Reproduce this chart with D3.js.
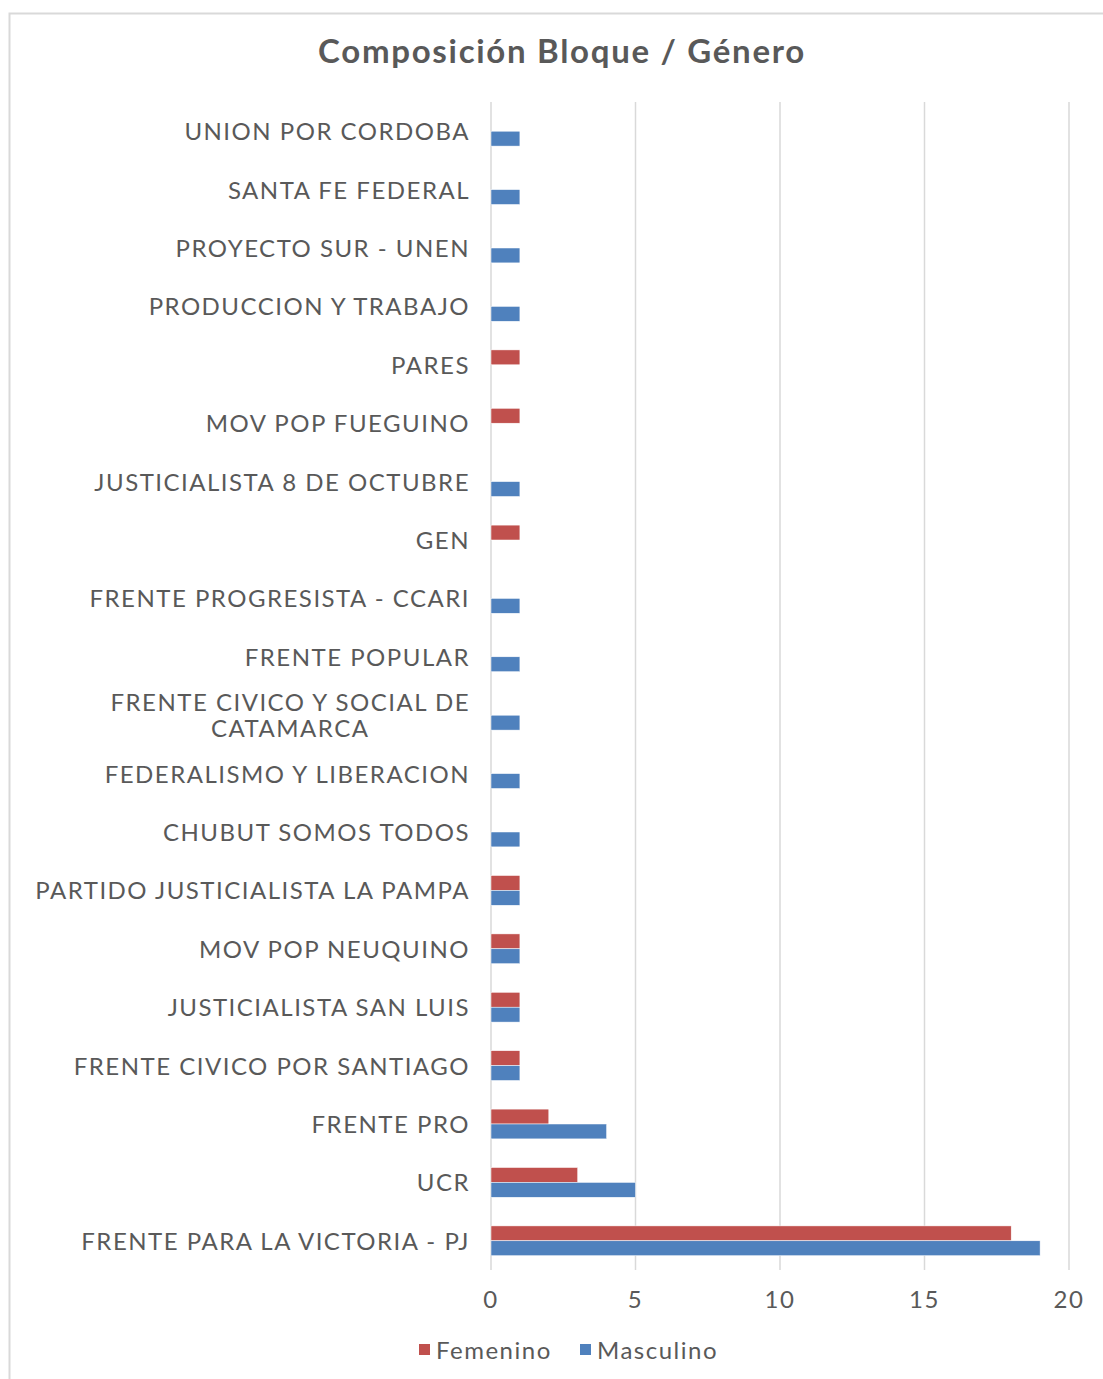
<!DOCTYPE html>
<meta charset="utf-8">
<style>
  body { margin: 0; background: #fff; }
  text { font-family: "Lato", "Noto Sans", sans-serif; fill: #595959; }
  .lbl { font-size: 24px; letter-spacing: 1.5px; }
  .grid line { stroke: #d9d9d9; stroke-width: 1.5px; }
</style>
<body>
<svg width="1103" height="1379"></svg>
</body>
<script src="https://d3js.org/d3.v7.min.js"></script>
<script>
    // bloques, de arriba hacia abajo
    let bloques = [
        "UNION POR CORDOBA", "SANTA FE FEDERAL", "PROYECTO SUR - UNEN", "PRODUCCION Y TRABAJO",
        "PARES", "MOV POP FUEGUINO", "JUSTICIALISTA 8 DE OCTUBRE", "GEN",
        "FRENTE PROGRESISTA - CCARI", "FRENTE POPULAR", "FRENTE CIVICO Y SOCIAL DE CATAMARCA",
        "FEDERALISMO Y LIBERACION", "CHUBUT SOMOS TODOS", "PARTIDO JUSTICIALISTA LA PAMPA",
        "MOV POP NEUQUINO", "JUSTICIALISTA SAN LUIS", "FRENTE CIVICO POR SANTIAGO",
        "FRENTE PRO", "UCR", "FRENTE PARA LA VICTORIA - PJ"
    ];
    let femenino  = [0, 0, 0, 0, 1, 1, 0, 1, 0, 0, 0, 0, 0, 1, 1, 1, 1, 2, 3, 18];
    let masculino = [1, 1, 1, 1, 0, 0, 1, 0, 1, 1, 1, 1, 1, 1, 1, 1, 1, 4, 5, 19];
    let series = ["Femenino", "Masculino"];
    let colores = ["#C0504D", "#4F81BD"];
    let xTicks = [0, 5, 10, 15, 20];

    var svg = d3.select("svg");

    // marco del grafico
    svg.append("rect")
        .attr("x", 9.5).attr("y", 13.5)
        .attr("width", 1100).attr("height", 1400)
        .attr("fill", "none")
        .attr("stroke", "#d9d9d9")
        .attr("stroke-width", 2);

    svg.append("text")
        .attr("x", 562).attr("y", 63)
        .attr("text-anchor", "middle")
        .style("font-size", "33px")
        .style("letter-spacing", "1.7px")
        .style("font-weight", "bold")
        .text("Composición Bloque / Género");

    var plotLeft = 491, plotRight = 1069, plotTop = 102, plotBottom = 1270;

    var x = d3.scaleLinear().domain([0, 20]).range([plotLeft, plotRight]);
    var y = d3.scaleBand().domain(bloques).range([plotTop, plotBottom]).paddingInner(0.49).paddingOuter(0.245);
    var ySub = d3.scaleBand().domain(series).range([0, y.bandwidth()]);

    // grilla
    svg.append("g").attr("class", "grid")
        .selectAll("line")
        .data(xTicks)
        .enter().append("line")
            .attr("x1", d => x(d)).attr("x2", d => x(d))
            .attr("y1", plotTop).attr("y2", plotBottom);

    var rows = bloques.map((b, i) => ({ bloque: b, vals: [femenino[i], masculino[i]] }));

    var g = svg.append("g")
        .selectAll("g")
        .data(rows)
        .enter().append("g")
            .attr("transform", d => "translate(0," + y(d.bloque) + ")");

    g.selectAll("rect")
        .data(d => d.vals.map((v, j) => ({ serie: series[j], v: v, c: colores[j] })))
        .enter().append("rect")
            .filter(d => d.v > 0)
            .attr("x", x(0))
            .attr("y", d => ySub(d.serie))
            .attr("width", d => x(d.v) - x(0))
            .attr("height", ySub.bandwidth())
            .attr("fill", d => d.c)
            .attr("stroke", "#fff")
            .attr("stroke-width", 0.5);

    // etiquetas de categoria
    var labelX = 470;
    bloques.forEach(function(b) {
        var cy = y(b) + y.bandwidth() / 2;
        if (b == "FRENTE CIVICO Y SOCIAL DE CATAMARCA") {
            var t = svg.append("text")
                .attr("class", "lbl")
                .attr("text-anchor", "middle");
            t.append("tspan").attr("y", cy - 4).text("FRENTE CIVICO Y SOCIAL DE");
            t.append("tspan").attr("y", cy + 22).text("CATAMARCA");
            var w = t.select("tspan").node().getComputedTextLength();
            t.selectAll("tspan").attr("x", labelX - w / 2);
        } else {
            svg.append("text")
                .attr("class", "lbl")
                .attr("x", labelX).attr("y", cy + 9)
                .attr("text-anchor", "end")
                .text(b);
        }
    });

    // eje x
    svg.append("g")
        .selectAll("text")
        .data(xTicks)
        .enter().append("text")
            .attr("class", "lbl")
            .attr("x", d => x(d)).attr("y", 1308)
            .attr("text-anchor", "middle")
            .text(d => d);

    // leyenda
    var leg = [{ n: "Femenino", c: colores[0], x: 419 }, { n: "Masculino", c: colores[1], x: 580 }];
    var lg = svg.append("g").selectAll("g").data(leg).enter().append("g");
    lg.append("rect")
        .attr("x", d => d.x).attr("y", 1344)
        .attr("width", 11).attr("height", 11)
        .attr("fill", d => d.c);
    lg.append("text")
        .attr("class", "lbl")
        .attr("x", d => d.x + 17).attr("y", 1359)
        .text(d => d.n);
</script>
